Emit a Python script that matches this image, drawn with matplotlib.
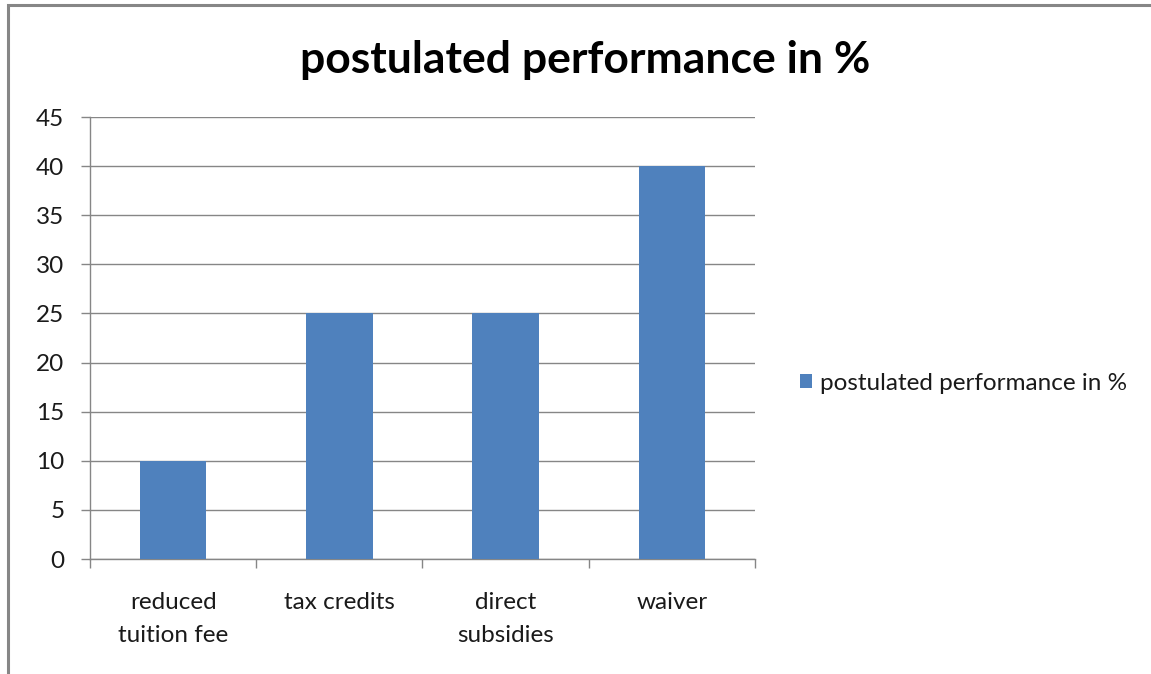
import matplotlib
matplotlib.use("Agg")
import matplotlib.pyplot as plt
from matplotlib.patches import Rectangle

categories = ["reduced\ntuition fee", "tax credits", "direct\nsubsidies", "waiver"]
values = [10, 25, 25, 40]
series_name = "postulated performance in %"
title = "postulated performance in %"
yticks = [0, 5, 10, 15, 20, 25, 30, 35, 40, 45]

plt.rcParams['font.family'] = ['Lato', 'DejaVu Sans']

W, H = 1151, 674
FS = 17.5
fig = plt.figure(figsize=(W / 100, H / 100), dpi=100)
fig.patch.set_facecolor('white')

# outer chart border
fig.add_artist(Rectangle((8 / W, -0.05), 1.2, 1 - 5 / H + 0.05, transform=fig.transFigure,
                         fill=False, edgecolor='#868686', linewidth=2.2))

ax = fig.add_axes([90 / W, 1 - 559 / H, (755 - 90) / W, (559 - 117) / H])
x = list(range(len(categories)))
ax.bar(x, values, width=0.4, color='#4F81BD', label=series_name, zorder=3)
ax.set_xlim(-0.5, len(categories) - 0.5)
ax.set_ylim(0, 45)
ax.set_yticks(yticks)
ax.set_yticklabels([str(t) for t in yticks], fontsize=FS, color='#1a1a1a')
ax.yaxis.grid(True, color='#868686', linewidth=1.0, zorder=0)
ax.set_axisbelow(True)

for s in ['top', 'right']:
    ax.spines[s].set_visible(False)
for s in ['left', 'bottom']:
    ax.spines[s].set_color('#868686')
    ax.spines[s].set_linewidth(1.0)

ax.tick_params(axis='y', direction='out', length=6.5, width=1.0, color='#868686', pad=12)
ax.set_xticks([i - 0.5 for i in range(len(categories) + 1)], minor=False)
ax.set_xticklabels([])
ax.tick_params(axis='x', which='major', direction='out', length=6.5, width=1.0, color='#868686')
ax.set_xticks(x, minor=True)
ax.set_xticklabels(categories, minor=True, fontsize=FS, color='#1a1a1a', linespacing=1.72)
ax.tick_params(axis='x', which='minor', length=0, pad=23.5)

fig.text(585 / W, 1 - 60 / H, title, ha='center', va='center', fontsize=32,
         fontweight='bold', color='black')

leg = fig.legend(loc='center left', bbox_to_anchor=(790 / W, 1 - 383 / H), frameon=False,
                 fontsize=FS, handlelength=0.5, handleheight=0.5, handletextpad=0.35,
                 borderaxespad=0)
for t in leg.get_texts():
    t.set_color('#1a1a1a')

fig.savefig('out.png', dpi=100, facecolor='white')
